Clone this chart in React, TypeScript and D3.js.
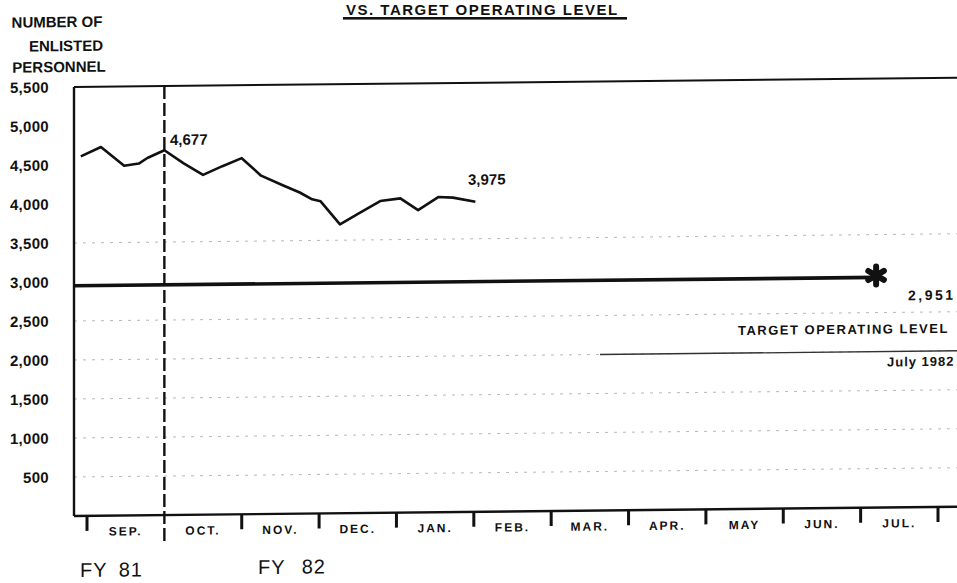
import React from "react";
import * as d3 from "d3";

// ---- data ----
const monthLabels = ["SEP.", "OCT.", "NOV.", "DEC.", "JAN.", "FEB.", "MAR.", "APR.", "MAY", "JUN.", "JUL."];
const yTickValues = [500, 1000, 1500, 2000, 2500, 3000, 3500, 4000, 4500, 5000, 5500];
const gridValues = [500, 1000, 1500, 2000, 2500, 3500];
// weekly strength counts, position in months from Sep 1 1981
const weekPos = [-0.08, 0.18, 0.48, 0.67, 0.78, 1.0, 1.25, 1.5, 1.75, 2.0, 2.25, 2.53, 2.75, 2.91, 3.02, 3.27, 3.53, 3.79, 4.05, 4.28, 4.54, 4.73, 5.02];
const personnel = [4610, 4727, 4483, 4510, 4580, 4677, 4506, 4356, 4465, 4565, 4338, 4213, 4117, 4028, 4001, 3704, 3851, 3997, 4028, 3876, 4040, 4031, 3975];
const targetValue = 2951;
const targetMonth = 10.2;
const fyBoundary = 1; // Oct 1

const W = 957;
const H = 583;
const FONT = "'Liberation Sans', Arial, Helvetica, sans-serif";

export default function App() {
  const x = d3.scaleLinear().domain([0, 11]).range([87, 938]);
  const y = d3.scaleLinear().domain([0, 5500]).range([516, 87]);
  const left = 74;
  const right = W + 5;

  const line = d3
    .line<number>()
    .x((_, i) => x(weekPos[i]))
    .y((d) => y(d));

  const tickMonths = d3.range(0, 12).filter((m) => m !== fyBoundary);

  // asterisk
  const ax = x(targetMonth);
  const ay = y(targetValue);
  const astR = 9;
  const astAngles = [90, 30, 150];

  return (
    <svg
      width={W}
      height={H}
      style={{ position: "absolute", left: 0, top: 0, background: "#fff" }}
      fontFamily={FONT}
    >
      <rect x={0} y={0} width={W} height={H} fill="#fff" />
      {/* title (top edge of the page) */}
      <text x={346} y={15} fontSize={15} fontWeight="bold" letterSpacing={1.5} fill="#111">
        VS. TARGET OPERATING LEVEL
      </text>
      <rect x={343} y={17} width={284} height={2.6} fill="#111" />

      <g transform={`translate(${left} 0) skewY(-0.6) translate(${-left} 0)`}>
        {/* y axis title */}
        <text x={57} y={27} textAnchor="middle" fontSize={15} fontWeight="bold" fill="#111">
          NUMBER OF
        </text>
        <text x={66} y={51} textAnchor="middle" fontSize={15} fontWeight="bold" fill="#111">
          ENLISTED
        </text>
        <text x={59} y={72} textAnchor="middle" fontSize={15} fontWeight="bold" fill="#111">
          PERSONNEL
        </text>

        {/* grid */}
        {gridValues.map((v) => (
          <line
            key={"g" + v}
            x1={left}
            x2={right}
            y1={y(v)}
            y2={y(v)}
            stroke="#b0b0b0"
            strokeWidth={0.9}
            strokeDasharray="3,6"
          />
        ))}
        <line x1={600} x2={right} y1={y(2000)} y2={y(2000)} stroke="#333" strokeWidth={1.3} />

        {/* y tick labels */}
        {yTickValues.map((v) => (
          <text
            key={"t" + v}
            x={49}
            y={y(v)}
            dy="0.36em"
            textAnchor="end"
            fontSize={15}
            fontWeight="bold"
            letterSpacing={0.3}
            fill="#111"
          >
            {d3.format(",")(v)}
          </text>
        ))}

        {/* frame */}
        <line x1={left} x2={right} y1={y(5500)} y2={y(5500)} stroke="#111" strokeWidth={2} />
        <line x1={left} x2={left} y1={y(5500)} y2={y(0)} stroke="#111" strokeWidth={2.4} />
        <line x1={left} x2={right} y1={y(0)} y2={y(0)} stroke="#111" strokeWidth={2.4} />

        {/* month ticks */}
        {tickMonths.map((m) => (
          <line key={"m" + m} x1={x(m)} x2={x(m)} y1={y(0)} y2={y(0) + 15} stroke="#111" strokeWidth={3} />
        ))}
        {/* FY boundary */}
        <line
          x1={x(fyBoundary)}
          x2={x(fyBoundary)}
          y1={y(5500)}
          y2={y(0) + 26}
          stroke="#111"
          strokeWidth={2.4}
          strokeDasharray="13,4"
        />

        {/* month labels */}
        {monthLabels.map((lab, i) => (
          <text
            key={lab}
            x={x(i + 0.5)}
            y={536}
            textAnchor="middle"
            fontSize={12}
            fontWeight="bold"
            letterSpacing={2}
            fill="#111"
          >
            {lab}
          </text>
        ))}

        {/* target line */}
        <line x1={left} x2={ax} y1={ay} y2={ay} stroke="#111" strokeWidth={3.6} />
        <g stroke="#111" strokeWidth={6} strokeLinecap="round">
          {astAngles.map((a) => {
            const r = (a * Math.PI) / 180;
            return (
              <line
                key={"a" + a}
                x1={ax - astR * Math.cos(r)}
                y1={ay - 2 - astR * Math.sin(r)}
                x2={ax + astR * Math.cos(r)}
                y2={ay - 2 + astR * Math.sin(r)}
              />
            );
          })}
        </g>
        <text x={908} y={309} fontSize={14} fontWeight="bold" letterSpacing={2.5} fill="#111">
          {d3.format(",")(targetValue)}
        </text>
        <text x={738} y={342} fontSize={13} fontWeight="bold" letterSpacing={1.5} fill="#111">
          TARGET OPERATING LEVEL
        </text>
        <text x={887} y={375} fontSize={13} fontWeight="bold" letterSpacing={1} fill="#111">
          July 1982
        </text>

        {/* data line */}
        <path d={line(personnel) || ""} fill="none" stroke="#111" strokeWidth={2.6} strokeLinejoin="round" />
        <text x={170} y={146} fontSize={15} fontWeight="bold" fill="#111">
          {d3.format(",")(personnel[5])}
        </text>
        <text x={468} y={189} fontSize={15} fontWeight="bold" fill="#111">
          {d3.format(",")(personnel[personnel.length - 1])}
        </text>

        {/* fiscal years */}
        <text x={80} y={577} fontSize={20} letterSpacing={1} wordSpacing={5} fill="#111">
          FY 81
        </text>
        <text x={258} y={576} fontSize={20} letterSpacing={1} wordSpacing={10} fill="#111">
          FY 82
        </text>
      </g>
    </svg>
  );
}
